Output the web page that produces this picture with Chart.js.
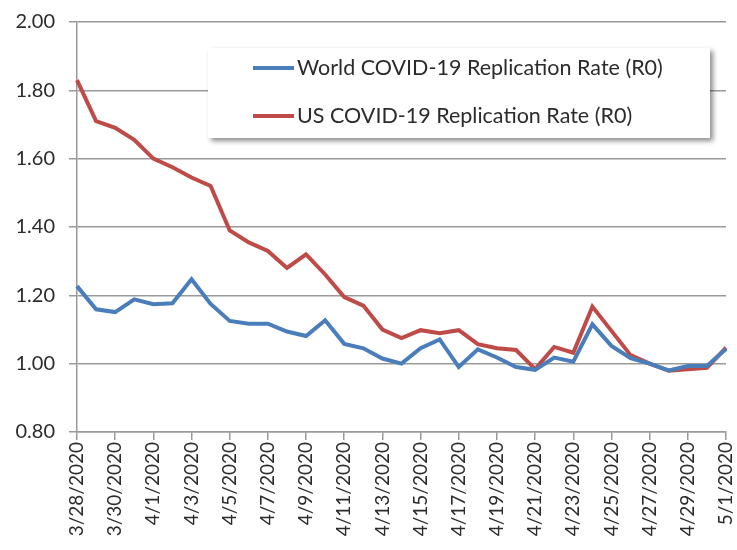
<!DOCTYPE html>
<html>
<head>
<meta charset="utf-8">
<script src="https://cdn.jsdelivr.net/npm/chart.js@4"></script>
<style>
  html, body { margin: 0; padding: 0; background: #fff; }
  #wrap { width: 737px; height: 550px; }
</style>
</head>
<body>
<div id="wrap"><canvas id="rChart" width="737" height="550"></canvas></div>
<script>
// daily dates, 3/28 .. 5/1
const dates = [
    "3/28/2020", "3/29/2020", "3/30/2020", "3/31/2020",
    "4/1/2020", "4/2/2020", "4/3/2020", "4/4/2020", "4/5/2020", "4/6/2020", "4/7/2020", "4/8/2020",
    "4/9/2020", "4/10/2020", "4/11/2020", "4/12/2020", "4/13/2020", "4/14/2020", "4/15/2020", "4/16/2020",
    "4/17/2020", "4/18/2020", "4/19/2020", "4/20/2020", "4/21/2020", "4/22/2020", "4/23/2020", "4/24/2020",
    "4/25/2020", "4/26/2020", "4/27/2020", "4/28/2020", "4/29/2020", "4/30/2020", "5/1/2020"
];

const worldR0 = [
    1.227, 1.159, 1.151, 1.188, 1.174, 1.177, 1.247, 1.175, 1.125, 1.117, 1.117, 1.094,
    1.081, 1.127, 1.058, 1.045, 1.015, 1.000, 1.045, 1.071, 0.990, 1.042, 1.018, 0.990,
    0.982, 1.018, 1.006, 1.115, 1.052, 1.016, 1.000, 0.980, 0.993, 0.993, 1.043
];

const usR0 = [
    1.830, 1.710, 1.690, 1.655, 1.600, 1.575, 1.545, 1.520, 1.390, 1.355, 1.330, 1.280,
    1.320, 1.261, 1.195, 1.170, 1.100, 1.075, 1.098, 1.089, 1.098, 1.057, 1.045, 1.040,
    0.984, 1.049, 1.032, 1.167, 1.096, 1.025, 1.000, 0.979, 0.984, 0.988, 1.047
];

const seriesNames = ["World COVID-19 Replication Rate (R0)", "US COVID-19 Replication Rate (R0)"];
const yTicks = { min: 0.8, max: 2.0, step: 0.2 };

const FONT = "Lato, 'Open Sans', sans-serif";
const TEXT = "#2b2b2b";
const GRID = "#999";

// legend box inside the plot, with a drop shadow (like Excel)
const boxLegend = {
    id: "boxLegend",
    afterDatasetsDraw(chart) {
        const ctx = chart.ctx;
        const x = 208, y = 48, w = 502, h = 90;
        ctx.save();
        ctx.shadowColor = "rgba(0,0,0,0.45)";
        ctx.shadowBlur = 5;
        ctx.shadowOffsetX = 3;
        ctx.shadowOffsetY = 3;
        ctx.fillStyle = "#fff";
        ctx.fillRect(x, y, w, h);
        ctx.restore();

        ctx.save();
        ctx.font = "21.5px " + FONT;
        ctx.textBaseline = "middle";
        chart.data.datasets.forEach((ds, i) => {
            const ly = y + 20 + i * 48;
            ctx.strokeStyle = ds.borderColor;
            ctx.lineWidth = 4;
            ctx.beginPath();
            ctx.moveTo(253, ly);
            ctx.lineTo(294, ly);
            ctx.stroke();
            ctx.fillStyle = TEXT;
            ctx.fillText(ds.label, 297, ly);
        });
        ctx.restore();
    }
};

new Chart(document.getElementById("rChart").getContext("2d"), {
    type: "line",
    data: {
        labels: dates,
        datasets: [
            { label: seriesNames[0], data: worldR0, borderColor: "#4A7EBB", borderWidth: 4, pointRadius: 0, tension: 0, fill: false },
            { label: seriesNames[1], data: usR0,    borderColor: "#BE4B48", borderWidth: 4, pointRadius: 0, tension: 0, fill: false }
        ]
    },
    options: {
        responsive: false,
        animation: false,
        layout: { padding: { top: 22, right: 11, left: 0, bottom: 0 } },
        plugins: {
            legend: { display: false },
            tooltip: { enabled: false }
        },
        scales: {
            x: {
                afterFit: s => { s.height = 118; s.paddingLeft = 0; s.paddingRight = 0; },
                grid: { drawOnChartArea: false, drawTicks: true, tickLength: 8, color: GRID, lineWidth: 1.5 },
                border: { color: GRID, width: 1.5 },
                ticks: {
                    autoSkip: false,
                    maxRotation: 90,
                    minRotation: 90,
                    padding: 2,
                    color: TEXT,
                    font: { family: FONT, size: 19 },
                    callback: (v, i) => (i % 2 === 0 ? dates[i] : null)
                }
            },
            y: {
                min: yTicks.min,
                max: yTicks.max,
                // fixed gutter; no extra room for the top tick label
                afterFit: s => { s.width = 77; s.paddingTop = 0; s.paddingBottom = 0; },
                grid: { color: GRID, lineWidth: 1.5, tickLength: 8 },
                border: { color: GRID, width: 1.5 },
                ticks: {
                    stepSize: yTicks.step,
                    padding: 14,
                    color: TEXT,
                    font: { family: FONT, size: 20 },
                    callback: v => v.toFixed(2)
                }
            }
        }
    },
    plugins: [boxLegend]
});
</script>
</body>
</html>
